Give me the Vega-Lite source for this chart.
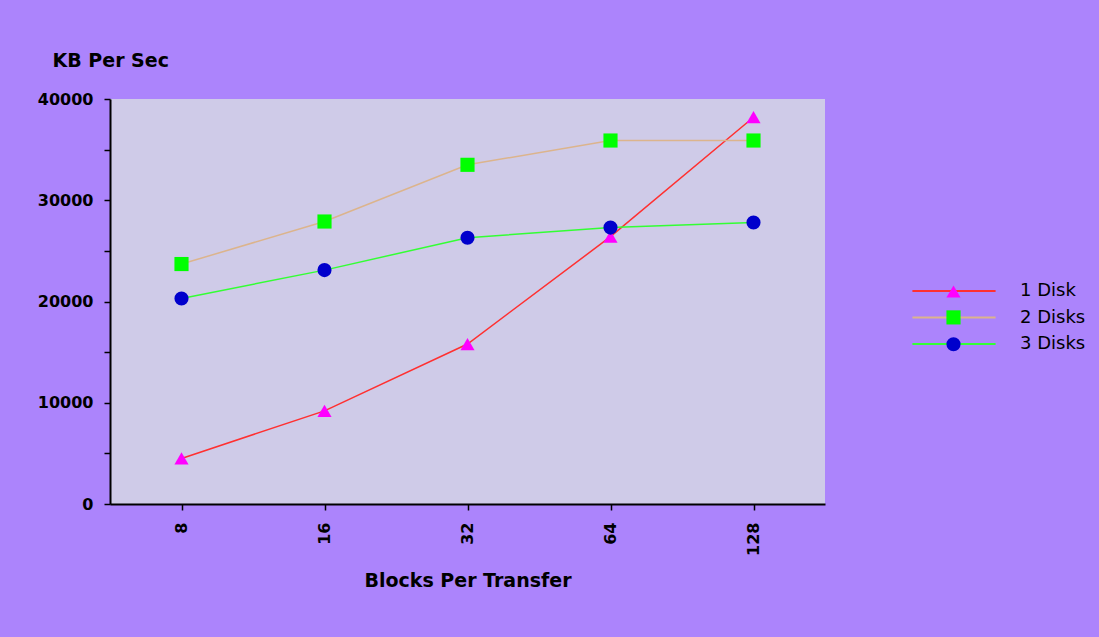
{
  "$schema": "https://vega.github.io/schema/vega-lite/v6.json",
  "autosize": "none",
  "width": 715,
  "height": 405,
  "padding": {"left": 110, "top": 99, "right": 274, "bottom": 133},
  "background": "#ac84fc",
  "config": {
    "view": {"fill": "#cfcbe8", "stroke": null},
    "axis": {
      "domainColor": "#000000",
      "domainWidth": 2,
      "tickColor": "#000000",
      "tickWidth": 1.5,
      "tickSize": 6,
      "grid": false,
      "labelFont": "DejaVu Sans",
      "labelFontWeight": "bold",
      "labelFontSize": 16,
      "labelColor": "#000000",
      "titleFont": "DejaVu Sans",
      "titleFontWeight": "bold",
      "titleFontSize": 19,
      "titleColor": "#000000"
    }
  },
  "data": {
    "values": [
      {"blocks": 8, "series": "1 Disk", "kbps": 4500},
      {"blocks": 16, "series": "1 Disk", "kbps": 9200},
      {"blocks": 32, "series": "1 Disk", "kbps": 15800},
      {"blocks": 64, "series": "1 Disk", "kbps": 26400},
      {"blocks": 128, "series": "1 Disk", "kbps": 38200},
      {"blocks": 8, "series": "2 Disks", "kbps": 23700},
      {"blocks": 16, "series": "2 Disks", "kbps": 27900},
      {"blocks": 32, "series": "2 Disks", "kbps": 33500},
      {"blocks": 64, "series": "2 Disks", "kbps": 35900},
      {"blocks": 128, "series": "2 Disks", "kbps": 35900},
      {"blocks": 8, "series": "3 Disks", "kbps": 20300},
      {"blocks": 16, "series": "3 Disks", "kbps": 23100},
      {"blocks": 32, "series": "3 Disks", "kbps": 26300},
      {"blocks": 64, "series": "3 Disks", "kbps": 27300},
      {"blocks": 128, "series": "3 Disks", "kbps": 27800}
    ]
  },
  "encoding": {
    "x": {
      "field": "blocks",
      "type": "ordinal",
      "scale": {"type": "point", "padding": 0.5},
      "axis": {
        "title": "Blocks Per Transfer",
        "labelAngle": -90,
        "labelPadding": 12,
        "titleY": 76,
        "titleBaseline": "middle"
      }
    },
    "y": {
      "field": "kbps",
      "type": "quantitative",
      "scale": {"domain": [0, 40000], "nice": false},
      "axis": {
        "values": [0, 5000, 10000, 15000, 20000, 25000, 30000, 35000, 40000],
        "labelExpr": "datum.value % 10000 == 0 ? datum.value : ''",
        "labelPadding": 11,
        "title": "KB Per Sec",
        "titleAngle": 0,
        "titleAlign": "left",
        "titleBaseline": "middle",
        "titleX": -58,
        "titleY": -39
      }
    }
  },
  "layer": [
    {
      "mark": {"type": "line", "strokeWidth": 1.5},
      "encoding": {
        "stroke": {
          "field": "series",
          "type": "nominal",
          "scale": {"domain": ["1 Disk", "2 Disks", "3 Disks"], "range": ["#ff3030", "#dcb48c", "#33ff33"]},
          "legend": {
            "title": null,
            "orient": "none",
            "legendX": 835,
            "legendY": 183,
            "padding": 0,
            "symbolType": "M-6.2,0H6.2",
            "symbolSize": 180,
            "symbolStrokeWidth": 1.8,
            "labelFont": "DejaVu Sans",
            "labelFontSize": 18,
            "labelColor": "#000000",
            "labelOffset": 57,
            "rowPadding": 8.5
          }
        }
      }
    },
    {
      "mark": {"type": "point", "filled": true, "size": 200, "opacity": 1, "strokeWidth": 0},
      "encoding": {
        "fill": {
          "field": "series",
          "type": "nominal",
          "scale": {"range": ["#ff00ff", "#00ff00", "#0000cc"]},
          "legend": {
            "title": null,
            "orient": "none",
            "legendX": 836,
            "legendY": 185,
            "padding": 0,
            "symbolSize": 200,
            "symbolStrokeWidth": 0,
            "symbolOpacity": 1,
            "labelExpr": "''",
            "labelOffset": 0,
            "rowPadding": 11.9
          }
        },
        "shape": {
          "field": "series",
          "type": "nominal",
          "scale": {"range": ["triangle-up", "square", "circle"]}
        }
      }
    }
  ]
}
